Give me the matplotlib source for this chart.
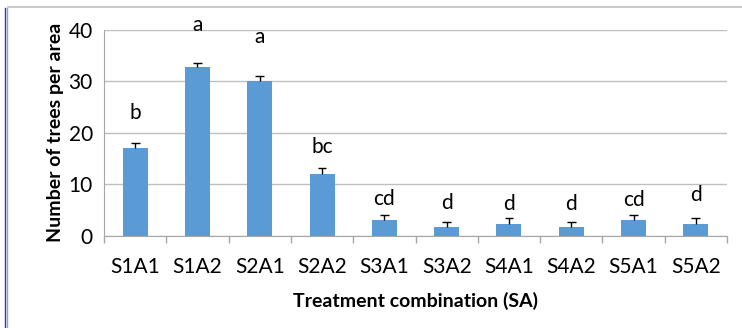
import matplotlib.pyplot as plt
import numpy as np
from matplotlib.lines import Line2D

# data
treatments = ["S1A1", "S1A2", "S2A1", "S2A2", "S3A1", "S3A2", "S4A1", "S4A2", "S5A1", "S5A2"]
trees = [17.0, 32.7, 30.0, 12.0, 3.1, 1.7, 2.4, 1.7, 3.1, 2.4]
err_up = [1.0, 0.9, 1.0, 1.1, 1.0, 1.0, 1.0, 1.0, 1.0, 1.0]
letters = ["b", "a", "a", "bc", "cd", "d", "d", "d", "cd", "d"]
letter_y = [23.8, 40.9, 38.6, 17.3, 7.2, 6.4, 6.2, 6.2, 7.0, 7.9]

plt.rcParams['font.family'] = ['Lato', 'DejaVu Sans']
FS = 15

fig = plt.figure(figsize=(7.42, 3.28), dpi=100)
ax = fig.add_axes([104 / 742, 1 - 236 / 328, 623 / 742, 206.3 / 328])

x = np.arange(len(treatments))
ax.bar(x, trees, width=0.4, color="#5B9BD5", zorder=3)
# upper-only error bars
tops = np.array(trees) + np.array(err_up)
ax.vlines(x, trees, tops, color="black", linewidth=1, zorder=4)
ax.hlines(tops, x - 0.07, x + 0.07, color="black", linewidth=1, zorder=4)

for xi, lab, ly in zip(x, letters, letter_y):
    ax.text(xi, ly, lab, ha="center", va="center", fontsize=FS, clip_on=False)

ax.set_xlim(-0.5, len(treatments) - 0.5)
ax.set_ylim(0, 40)
ax.set_yticks([0, 10, 20, 30, 40])
ax.set_xticks(x)
ax.set_xticklabels(treatments, fontsize=FS)
ax.tick_params(axis="y", labelsize=FS, length=0, pad=8)
ax.tick_params(axis="x", length=0, pad=15)
# tick marks between categories
ax.set_xticks(np.arange(-0.5, len(treatments)), minor=True)
ax.tick_params(axis="x", which="minor", length=5, color="#A6A6A6", width=1)

ax.grid(axis="y", color="#BFBFBF", linewidth=1, zorder=0)
for s in ["top", "right"]:
    ax.spines[s].set_visible(False)
ax.spines["left"].set_color("#A6A6A6")
ax.spines["bottom"].set_color("#A6A6A6")

ax.set_ylabel("Number of trees per area", fontsize=14, fontweight="bold", labelpad=3)
ax.set_xlabel("Treatment combination (SA)", fontsize=14, fontweight="bold", labelpad=11)

# outer frame bits
fig.add_artist(Line2D([8 / 742, 1], [1 - 6.5 / 328] * 2, color="#BFBFBF", linewidth=1.2))
fig.add_artist(Line2D([4.5 / 742] * 2, [0, 1 - 8 / 328], color="#3333CC", linewidth=1))
fig.add_artist(Line2D([7 / 742] * 2, [0, 1 - 8 / 328], color="#9999DD", linewidth=1))

fig.savefig("out.png", dpi=100)
